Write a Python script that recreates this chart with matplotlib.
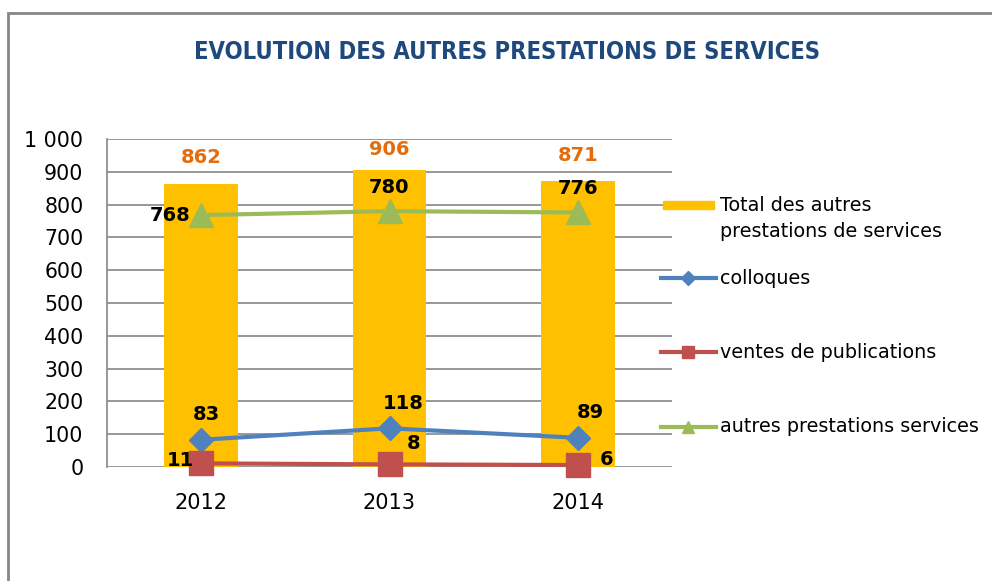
import matplotlib
matplotlib.use("Agg")
import matplotlib.pyplot as plt
from matplotlib.lines import Line2D
from matplotlib.patches import Rectangle
import numpy as np

years = ["2012", "2013", "2014"]
total = [862, 906, 871]
colloques = [83, 118, 89]
ventes = [11, 8, 6]
autres = [768, 780, 776]
yticks = [0, 100, 200, 300, 400, 500, 600, 700, 800, 900, 1000]
ytick_labels = ["0", "100", "200", "300", "400", "500", "600", "700", "800", "900", "1 000"]
legend_labels = ["Total des autres", "prestations de services", "colloques",
                 "ventes de publications", "autres prestations services"]
title = "EVOLUTION DES AUTRES PRESTATIONS DE SERVICES"

C_BAR = "#FFC000"
C_BLUE = "#4F81BD"
C_RED = "#C0504D"
C_GREEN = "#9BBB59"
C_ORANGE = "#E46C0A"
C_TITLE = "#1F497D"
C_GRID = "#868686"

W, H = 992, 581
plt.rcParams['font.family'] = ['DejaVu Sans']
fig = plt.figure(figsize=(W / 100, H / 100), dpi=100)

def fx(px):
    return px / W

def fy(py):
    return 1 - py / H

# outer chart border
fig.add_artist(Rectangle((fx(8), fy(600)), fx(1100), fy(13) - fy(600),
                         transform=fig.transFigure, fill=False,
                         edgecolor=C_GRID, linewidth=2, clip_on=False))

ax = fig.add_axes([fx(107), fy(467), fx(672) - fx(107), fy(139) - fy(467)])
x = np.arange(len(years))
ax.set_xlim(-0.5, len(years) - 0.5)
ax.set_ylim(0, 1000)

ax.bar(x, total, width=0.39, color=C_BAR, zorder=2)
ax.plot(x, colloques, color=C_BLUE, lw=3, marker='D', ms=12, zorder=4, clip_on=False)
ax.plot(x, ventes, color=C_RED, lw=3, marker='s', ms=17, zorder=4, clip_on=False)
ax.plot(x, autres, color=C_GREEN, lw=3, marker='^', ms=17, zorder=4, clip_on=False)

ax.set_yticks(yticks)
ax.set_yticklabels(ytick_labels)
ax.set_xticks(x)
ax.set_xticklabels(years)
ax.tick_params(axis='y', length=0, pad=17, labelsize=14.8)
ax.tick_params(axis='x', length=0, pad=19, labelsize=15)
ax.grid(axis='y', color=C_GRID, lw=1.2, zorder=0)
ax.set_axisbelow(True)
for s in ['top', 'right', 'bottom']:
    ax.spines[s].set_visible(False)
ax.spines['left'].set_color(C_GRID)
ax.spines['left'].set_linewidth(1.2)

lab = dict(fontsize=14, fontweight='bold', color='black', zorder=6)
# total labels
offs_t = [19.4, 14.4, 18.7]
for i, v in enumerate(total):
    ax.annotate(str(v), (x[i], v), xytext=(0, offs_t[i]), textcoords='offset points',
                ha='center', va='center', fontsize=14, fontweight='bold', color=C_ORANGE)
# autres
ax.annotate(str(autres[0]), (x[0], autres[0]), xytext=(-22, 0), textcoords='offset points',
            ha='center', va='center', **lab)
for i in [1, 2]:
    ax.annotate(str(autres[i]), (x[i], autres[i]), xytext=(0, 17), textcoords='offset points',
                ha='center', va='center', **lab)
# colloques
offs_c = [(4, 18), (10, 18), (9, 18)]
for i, v in enumerate(colloques):
    ax.annotate(str(v), (x[i], v), xytext=offs_c[i], textcoords='offset points',
                ha='center', va='center', **lab)
# ventes
offs_v = [(-15, 2), (17, 15), (21, 4)]
for i, v in enumerate(ventes):
    ax.annotate(str(v), (x[i], v), xytext=offs_v[i], textcoords='offset points',
                ha='center', va='center', **lab)

# title
fig.text(fx(507), fy(52), title, ha='center', va='center', fontsize=17,
         fontweight='bold', fontstretch='condensed', color=C_TITLE,
         family=['DejaVu Sans'])

# legend (manual)
LFS = 13.8
fig.add_artist(Rectangle((fx(663), fy(209)), fx(714) - fx(663), fy(201) - fy(209),
                         transform=fig.transFigure, color=C_BAR))
fig.text(fx(720), fy(205), legend_labels[0], ha='left', va='center', fontsize=LFS)
fig.text(fx(720), fy(232), legend_labels[1], ha='left', va='center', fontsize=LFS)
for yy, col, mk, ms, txt in [(278, C_BLUE, 'D', 7, legend_labels[2]),
                             (352, C_RED, 's', 9, legend_labels[3]),
                             (427, C_GREEN, '^', 9, legend_labels[4])]:
    fig.add_artist(Line2D([fx(661), fx(716)], [fy(yy), fy(yy)], transform=fig.transFigure,
                          color=col, lw=3))
    fig.add_artist(Line2D([fx(688)], [fy(yy)], transform=fig.transFigure,
                          color=col, marker=mk, ms=ms, lw=0))
    fig.text(fx(720), fy(yy), txt, ha='left', va='center', fontsize=LFS)

fig.savefig("out.png", dpi=100)
